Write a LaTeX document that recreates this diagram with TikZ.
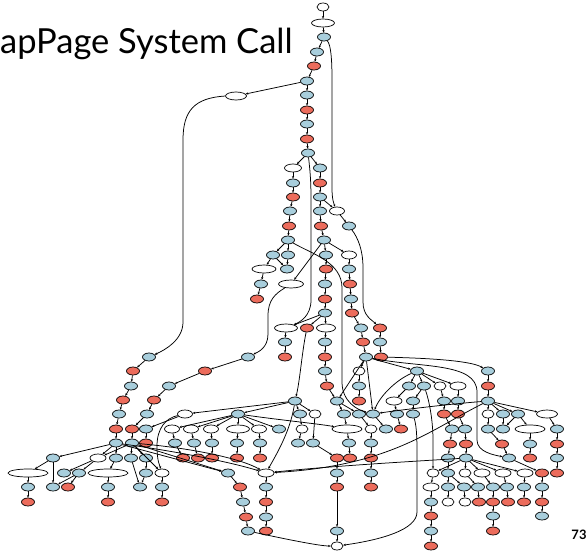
\documentclass[tikz,border=0pt]{standalone}
\usepackage{fontspec}
\setmainfont{Lato}
\usetikzlibrary{shapes.geometric,arrows.meta}
\definecolor{nblue}{RGB}{168,206,220}
\definecolor{nred}{RGB}{236,108,92}
\begin{document}
\begin{tikzpicture}[x=1pt,y=-1pt,
  nd/.style={ellipse,draw=black,line width=0.7pt,inner sep=0pt,minimum width=13pt,minimum height=8pt},
  bn/.style={nd,fill=nblue},
  rn/.style={nd,fill=nred},
  wn/.style={nd,fill=white,minimum width=#1},
  wn/.default=12pt,
  ed/.style={line width=0.75pt,-{Stealth[length=2.6pt,width=2.2pt]}},
]
\fill[white] (0,0) rectangle (586,552);
\useasboundingbox (0,0) rectangle (586,552);

% headings
\node[anchor=base west,inner sep=0pt,font=\fontsize{34.5}{40}\selectfont] (title) at (0,53) {apPage System Call};
\node[anchor=base,inner sep=0pt,font=\fontsize{13}{15}\selectfont\bfseries] (pageno) at (579,539) {73};

% top chain
\node[wn=12pt] (t1) at (323,7) {};
\node[wn=23pt] (t2) at (323,23) {};
\node[bn] (t3) at (324,37) {};
\node[bn] (t4) at (317,52) {};
\node[rn] (t5) at (314,66) {};
\node[bn] (t6) at (307,81) {};
\node[wn=21pt] (w1) at (236,96) {};
\node[bn] (t7) at (307,95) {};
\node[rn] (t8) at (307,110) {};
\node[bn] (t9) at (307,124) {};
\node[rn] (t10) at (307,139) {};
\node[bn] (t11) at (308,153) {};

% two columns below
\node[wn=17pt] (a1) at (293,168) {};
\node[bn] (a2) at (293,183) {};
\node[rn] (a3) at (293,197) {};
\node[bn] (a4) at (290,211) {};
\node[rn] (a5) at (289,226) {};
\node[bn] (a6) at (288,240) {};
\node[bn] (b1) at (320,168) {};
\node[rn] (b2) at (320,183) {};
\node[bn] (b3) at (320,197) {};
\node[bn] (b4) at (320,211) {};
\node[rn] (b5) at (321,226) {};
\node[bn] (b6) at (324,240) {};
\node[wn=15pt] (pm) at (337,211) {};
\node[bn] (c1) at (349,226) {};

\node[bn] (e1) at (273,255) {};
\node[bn] (e2) at (288,255) {};
\node[wn=24pt] (f1) at (264,269) {};
\node[bn] (f2) at (287,269) {};
\node[bn] (g1) at (261,284) {};
\node[rn] (h1) at (257,299) {};
\node[wn=25pt] (g2) at (291,284) {};

\node[bn] (k1) at (326,255) {};
\node[rn] (k3) at (326,269) {};
\node[bn] (k4) at (325,284) {};
\node[rn] (k5) at (325,299) {};
\node[bn] (k6) at (325,313) {};
\node[wn=15pt] (k2) at (349,255) {};
\node[bn] (m1) at (349,269) {};
\node[rn] (m2) at (350,284) {};
\node[bn] (m3) at (351,299) {};
\node[rn] (m4) at (352,313) {};
\node[bn] (m5) at (361,328) {};
\node[rn] (m6) at (363,342) {};
\node[bn] (H1) at (366,357) {};
\node[rn] (n1) at (380,328) {};
\node[bn] (n2) at (380,342) {};
\node[rn] (n3) at (381,357) {};

\node[wn=23pt] (p1) at (286,328) {};
\node[rn] (p2) at (307,328) {};
\node[wn=19pt] (p3) at (326,328) {};
\node[bn] (q1) at (285,342) {};
\node[rn] (q2) at (285,357) {};
\node[bn] (r1) at (325,342) {};
\node[rn] (r2) at (325,357) {};
\node[bn] (r3) at (325,371) {};
\node[rn] (r4) at (327,386) {};

% left chains
\node[bn] (u1) at (149,357) {};
\node[rn] (u2) at (133,371) {};
\node[bn] (u3) at (131,386) {};
\node[rn] (u4) at (123,400) {};
\node[bn] (u5) at (119,414) {};
\node[rn] (u6) at (116,429) {};
\node[bn] (L1) at (116,443) {};
\node[bn] (s1) at (248,357) {};
\node[rn] (s2) at (205,371) {};
\node[bn] (s3) at (169,386) {};
\node[rn] (s4) at (154,400) {};
\node[bn] (s5) at (147,414) {};
\node[rn] (s6) at (132,429) {};
\node[bn] (L2) at (132,443) {};

% middle hub
\node[bn] (H2) at (295,401) {};
\node[wn=15pt] (x1) at (185,414) {};
\node[bn] (H3) at (238,414) {};
\node[bn] (x2) at (300,414) {};
\node[wn=12pt] (x3) at (315,414) {};
\node[bn] (y1) at (146,429) {};
\node[rn] (y2) at (146,443) {};
\node[wn=15pt] (z1) at (172,429) {};
\node[wn=15pt] (z2) at (191,429) {};
\node[wn=15pt] (z3) at (211,429) {};
\node[wn=23pt] (z4) at (238,429) {};
\node[wn=15pt] (z5) at (259,429) {};
\node[bn] (z6) at (279,429) {};
\node[bn] (zb1) at (175,443) {};
\node[bn] (zb2) at (194,443) {};
\node[bn] (zb3) at (212,443) {};
\node[bn] (zb4) at (237,443) {};
\node[bn] (zb5) at (260,443) {};
\node[rn] (zr1) at (183,458) {};
\node[rn] (zr2) at (198,458) {};
\node[rn] (zr3) at (212,458) {};
\node[rn] (zr4) at (237,458) {};
\node[rn] (zr5) at (260,458) {};
\node[wn=12pt] (x4) at (302,429) {};
\node[bn] (x5) at (298,443) {};
\node[bn] (x6) at (313,443) {};

% right-middle hub
\node[wn=12pt] (v1) at (359,371) {};
\node[bn] (v2) at (359,386) {};
\node[rn] (v3) at (359,401) {};
\node[bn] (o1) at (337,401) {};
\node[bn] (o3) at (344,414) {};
\node[wn=30pt] (o4) at (347,429) {};
\node[bn] (o5) at (349,443) {};
\node[rn] (o6) at (350,458) {};
\node[bn] (o7) at (359,414) {};
\node[wn=12pt] (o8) at (371,429) {};
\node[bn] (o9) at (371,443) {};
\node[rn] (o10) at (371,458) {};
\node[bn] (o11) at (371,473) {};
\node[rn] (o12) at (371,487) {};
\node[bn] (o2) at (373,414) {};
\node[bn] (o13) at (386,429) {};
\node[rn] (o14) at (337,458) {};
\node[bn] (o15) at (337,473) {};
\node[rn] (o16) at (337,487) {};
\node[bn] (o17) at (337,531) {};
\node[wn=12pt] (o18) at (337,546) {};

\node[wn=16pt] (W) at (266,473) {};
\node[bn] (W1) at (266,487) {};
\node[rn] (W2) at (266,502) {};
\node[bn] (W3) at (266,517) {};
\node[rn] (W4) at (266,531) {};
\node[bn] (c228) at (228,473) {};
\node[rn] (c240) at (240,487) {};
\node[bn] (c243) at (243,502) {};
\node[rn] (c246) at (246,517) {};
\node[bn] (c248) at (248,531) {};

% right cluster
\node[bn] (H4) at (417,371) {};
\node[bn] (hh1) at (409,386) {};
\node[bn] (hh2) at (424,386) {};
\node[wn=12pt] (hh3) at (440,386) {};
\node[wn=16pt] (hh4) at (458,386) {};
\node[wn=16pt] (hh5) at (394,401) {};
\node[bn] (hh6) at (397,414) {};
\node[rn] (hh7) at (401,429) {};
\node[bn] (hh8) at (413,401) {};
\node[bn] (hh9) at (413,414) {};
\node[bn] (i1) at (444,401) {};
\node[rn] (i2) at (444,414) {};
\node[bn] (i3) at (452,429) {};
\node[rn] (i4) at (450,444) {};
\node[bn] (i5) at (448,458) {};
\node[bn] (i6) at (448,473) {};
\node[bn] (i7) at (448,487) {};
\node[wn=12pt] (i8) at (448,502) {};
\node[bn] (j1) at (458,401) {};
\node[rn] (j2) at (458,414) {};
\node[bn] (j3) at (465,429) {};
\node[rn] (j4) at (466,444) {};
\node[bn] (H5) at (466,458) {};

\node[wn=12pt] (ka) at (433,473) {};
\node[wn=12pt] (kb) at (465,473) {};
\node[wn=16pt] (kc) at (482,473) {};
\node[wn=16pt] (kd) at (503,473) {};
\node[wn=16pt] (ke) at (525,473) {};
\node[wn=16pt] (ka1) at (431,487) {};
\node[bn] (ka2) at (431,502) {};
\node[rn] (ka3) at (431,516) {};
\node[bn] (ka4) at (431,531) {};
\node[rn] (ka5) at (431,546) {};
\node[bn] (kf1) at (464,487) {};
\node[wn=12pt] (kf2) at (465,502) {};
\node[bn] (kb1) at (478,487) {};
\node[rn] (kb2) at (479,502) {};
\node[bn] (kc1) at (493,487) {};
\node[rn] (kc2) at (493,502) {};
\node[bn] (kc3) at (493,516) {};
\node[rn] (kc4) at (493,531) {};
\node[bn] (kd1) at (507,487) {};
\node[rn] (kd2) at (508,502) {};
\node[bn] (ke1) at (524,487) {};
\node[rn] (ke2) at (524,502) {};

\node[bn] (R1) at (488,371) {};
\node[rn] (R2) at (488,386) {};
\node[bn] (H6) at (488,401) {};
\node[wn=12pt] (ga) at (488,414) {};
\node[bn] (gb) at (503,414) {};
\node[bn] (gc) at (518,414) {};
\node[wn=21pt] (gd) at (547,414) {};
\node[bn] (ga1) at (488,429) {};
\node[rn] (ga2) at (502,444) {};
\node[bn] (ga3) at (509,458) {};
\node[rn] (ga4) at (542,473) {};
\node[bn] (ga5) at (542,487) {};
\node[rn] (ga6) at (542,502) {};
\node[bn] (ga7) at (542,516) {};
\node[bn] (gb1) at (503,429) {};
\node[wn=30pt] (gc1) at (530,429) {};
\node[bn] (gc2) at (530,444) {};
\node[rn] (gc3) at (530,458) {};
\node[bn] (gd1) at (557,429) {};
\node[rn] (gd2) at (557,444) {};
\node[bn] (gd3) at (557,458) {};
\node[rn] (gd4) at (557,473) {};

% lower left
\node[bn] (l1) at (53,458) {};
\node[wn=16pt] (l2) at (98,458) {};
\node[bn] (l3) at (116,458) {};
\node[bn] (l4) at (131,458) {};
\node[bn] (l5) at (146,458) {};
\node[wn=40pt] (l6) at (28,473) {};
\node[bn] (l7) at (64,473) {};
\node[bn] (l8) at (79,473) {};
\node[wn=40pt] (l9) at (108,473) {};
\node[bn] (l10) at (146,473) {};
\node[wn=14pt] (l11) at (162,473) {};
\node[bn] (l12) at (28,487) {};
\node[bn] (l13) at (53,487) {};
\node[rn] (l14) at (68,487) {};
\node[bn] (l15) at (108,487) {};
\node[bn] (l16) at (140,487) {};
\node[bn] (l17) at (162,487) {};
\node[rn] (l18) at (28,502) {};
\node[rn] (l19) at (108,502) {};
\node[rn] (l20) at (162,502) {};

% straight connectors
\foreach \p/\q in {t1/t2,t2/t3,t3/t4,t4/t5,t5/t6,t6/t7,t7/t8,t8/t9,t9/t10,t10/t11,t6/w1,
  t11/a1,t11/b1,a1/a2,a2/a3,a3/a4,a4/a5,a5/a6,b1/b2,b2/b3,b3/b4,b4/b5,b5/b6,b3/pm,pm/c1,
  a6/e1,a6/e2,e1/f1,e2/f2,e1/f2,f1/g1,g1/h1,
  b6/k1,b6/k2,b6/g2,k1/k3,k3/k4,k4/k5,k5/k6,k2/m1,m1/m2,m2/m3,m3/m4,m4/m5,m5/m6,m6/H1,n1/n2,n2/n3,
  k6/p1,k6/p2,k6/p3,p1/q1,q1/q2,p3/r1,r1/r2,r2/r3,r3/r4,r4/o1,
  u1/u2,u2/u3,u3/u4,u4/u5,u5/u6,u6/L1,s1/s2,s2/s3,s3/s4,s4/s5,s5/s6,s6/L2,
  H2/x1,H2/H3,H2/x2,H2/x3,x1/y1,y1/y2,
  H3/z1,H3/z2,H3/z3,H3/z4,H3/z5,H3/z6,z1/zb1,z2/zb2,z3/zb3,z4/zb4,z5/zb5,
  zb1/zr1,zb2/zr2,zb3/zr3,zb4/zr4,zb5/zr5,
  x2/x4,x4/x5,x3/x6,x6/o14,
  H1/v1,v1/v2,v2/v3,H1/H4,H1/o1,H1/o2,o1/o3,o3/o4,o4/o5,o5/o6,o1/o7,o7/o8,o8/o9,o9/o10,o10/o11,o11/o12,
  o2/o13,o14/o15,o15/o16,o16/o17,o17/o18,
  W/W1,W1/W2,W2/W3,W3/W4,c228/c240,c240/c243,c243/c246,c246/c248,
  H4/hh1,H4/hh2,H4/hh3,H4/hh4,hh1/hh5,hh5/hh6,hh6/hh7,hh2/hh8,hh8/hh9,
  hh3/i1,i1/i2,i2/i3,i3/i4,i4/i5,i5/i6,i6/i7,i7/i8,hh4/j1,j1/j2,j2/j3,j3/j4,j4/H5,
  H5/ka,H5/kb,H5/kc,H5/kd,H5/ke,ka/ka1,ka1/ka2,ka2/ka3,ka3/ka4,ka4/ka5,
  i6/kf1,kf1/kf2,kb/kb1,kb1/kb2,kc/kc1,kc1/kc2,kc2/kc3,kc3/kc4,kd/kd1,kd1/kd2,ke/ke1,ke1/ke2,
  R1/R2,R2/H6,H6/ga,H6/gb,H6/gc,H6/gd,ga/ga1,ga1/ga2,ga2/ga3,ga3/ga4,ga4/ga5,ga5/ga6,ga6/ga7,
  gb/gb1,gc/gb1,gc/gc1,gc1/gc2,gc2/gc3,gd/gd1,gd1/gd2,gd2/gd3,gd3/gd4,
  L1/l1,L1/l3,L2/l2,L1/l2,L2/l4,L2/l5,l1/l6,l1/l13,l6/l12,l12/l18,l2/l7,l2/l8,l8/l14,l8/l13,
  l3/l9,l9/l15,l15/l19,l5/l10,l10/l16,l4/l16,l11/l17,l17/l20,L2/l11,
  L1/c228,L2/c228}
  \draw[ed] (\p) -- (\q);

% long curved connectors
\draw[ed] (t3) .. controls (331,45) and (332,60) .. (332,80) -- (332,188) .. controls (332,200) and (334,204) .. (pm);
\draw[ed] (w1.west) .. controls (195,98) and (183,110) .. (183,140) -- (183,322) .. controls (183,340) and (165,350) .. (u1);
\draw[ed] (t11) .. controls (310,170) and (311,180) .. (311,200) -- (311,300) .. controls (311,316) and (300,322) .. (p1);
\draw[ed] (c1) .. controls (358,238) and (363,250) .. (363,268) -- (363,302) .. controls (363,316) and (372,320) .. (n1);
\draw[ed] (a6) .. controls (312,254) and (342,262) .. (342,288) -- (342,382) .. controls (342,402) and (358,410) .. (o2);
\draw[ed] (g2) .. controls (275,294) and (268,300) .. (268,316) -- (268,334) .. controls (268,348) and (258,352) .. (s1);
\draw[ed] (p2) .. controls (302,352) and (300,380) .. (H2);
\draw[ed] (x1) .. controls (166,418) and (157,428) .. (157,446) .. controls (157,462) and (160,466) .. (l11);
\draw[ed] (H2) .. controls (290,432) and (276,455) .. (W);
\draw[ed] (H1) .. controls (420,368) and (477,362) .. (477,392) -- (477,440) .. controls (477,452) and (494,455) .. (ga3);
\draw[ed] (n3) .. controls (420,358) and (470,360) .. (R1);
\draw[ed] (H4) .. controls (396,380) and (380,396) .. (o2);
\draw[ed] (H6) .. controls (450,404) and (400,410) .. (o2);
\draw[ed] (H6) .. controls (430,430) and (390,466) .. (W);
\draw[ed] (H5) .. controls (420,461) and (330,466) .. (W);
\draw[ed] (hh9) .. controls (417,428) and (417,440) .. (417,460) -- (417,512) .. controls (417,530) and (380,540) .. (o18);
\draw[ed] (hh2) .. controls (429,400) and (433,420) .. (433,440) -- (ka);
\draw[ed] (c248) .. controls (290,540) and (320,546) .. (o18);
\draw[ed] (L1) .. controls (180,452) and (230,462) .. (W);
\draw[ed] (L2) .. controls (190,448) and (240,458) .. (W);
\draw[ed] (H3) .. controls (280,420) and (320,424) .. (o4);
\end{tikzpicture}
\end{document}
